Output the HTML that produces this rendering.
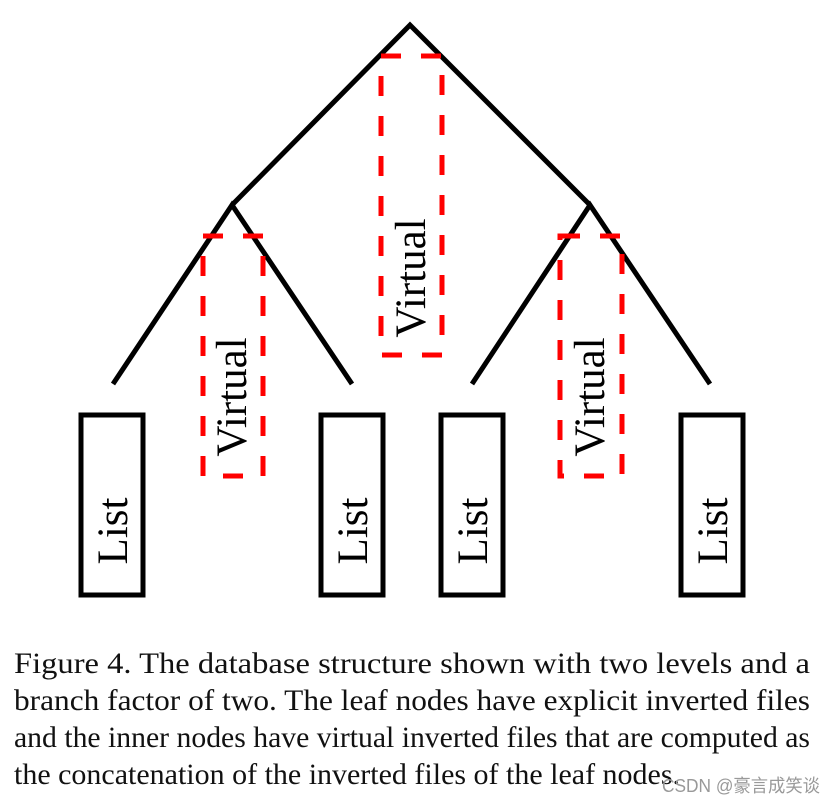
<!DOCTYPE html>
<html><head><meta charset="utf-8"><style>html,body{margin:0;padding:0;background:#fff}</style></head>
<body>
<svg width="836" height="806" viewBox="0 0 836 806" xmlns="http://www.w3.org/2000/svg">
<g stroke="#000" stroke-width="5" fill="none">
<polyline points="232,205 410,25 590,205"/>
<polyline points="113,384 232,205 352,384"/>
<polyline points="472,384 590,205 710,384"/>
<rect x="81" y="415" width="62" height="180"/>
<rect x="321" y="415" width="62" height="180"/>
<rect x="441" y="415" width="62" height="180"/>
<rect x="681" y="415" width="62" height="180"/>
</g>
<g stroke="#f00" stroke-width="5" fill="none" stroke-dasharray="20,20">
<rect x="381" y="56" width="61" height="299"/>
<rect x="203" y="236" width="60" height="240"/>
<rect x="560" y="236" width="62" height="240"/>
</g>
<g font-family="Liberation Serif, serif" font-size="43" fill="#000" text-anchor="middle">
<text transform="translate(425,278) rotate(-90)">Virtual</text>
<text transform="translate(246,397) rotate(-90)">Virtual</text>
<text transform="translate(604,397) rotate(-90)">Virtual</text>
<text transform="translate(127,531) rotate(-90)">List</text>
<text transform="translate(367,531) rotate(-90)">List</text>
<text transform="translate(487,531) rotate(-90)">List</text>
<text transform="translate(727,531) rotate(-90)">List</text>
</g>
<g font-family="Liberation Serif, serif" font-size="30" fill="#111">
<text x="14" y="673" textLength="796" lengthAdjust="spacingAndGlyphs">Figure 4. The database structure shown with two levels and a</text>
<text x="14" y="710" textLength="796" lengthAdjust="spacingAndGlyphs">branch factor of two.  The leaf nodes have explicit inverted files</text>
<text x="14" y="747" textLength="796" lengthAdjust="spacingAndGlyphs">and the inner nodes have virtual inverted files that are computed as</text>
<text x="14" y="784" textLength="666" lengthAdjust="spacingAndGlyphs">the concatenation of the inverted files of the leaf nodes.</text>
</g>
<text x="662" y="792" font-family="Liberation Sans, 'Noto Sans CJK SC', sans-serif" font-size="18" fill="#999" textLength="158" lengthAdjust="spacingAndGlyphs">CSDN @豪言成笑谈</text>
</svg>
</body></html>
